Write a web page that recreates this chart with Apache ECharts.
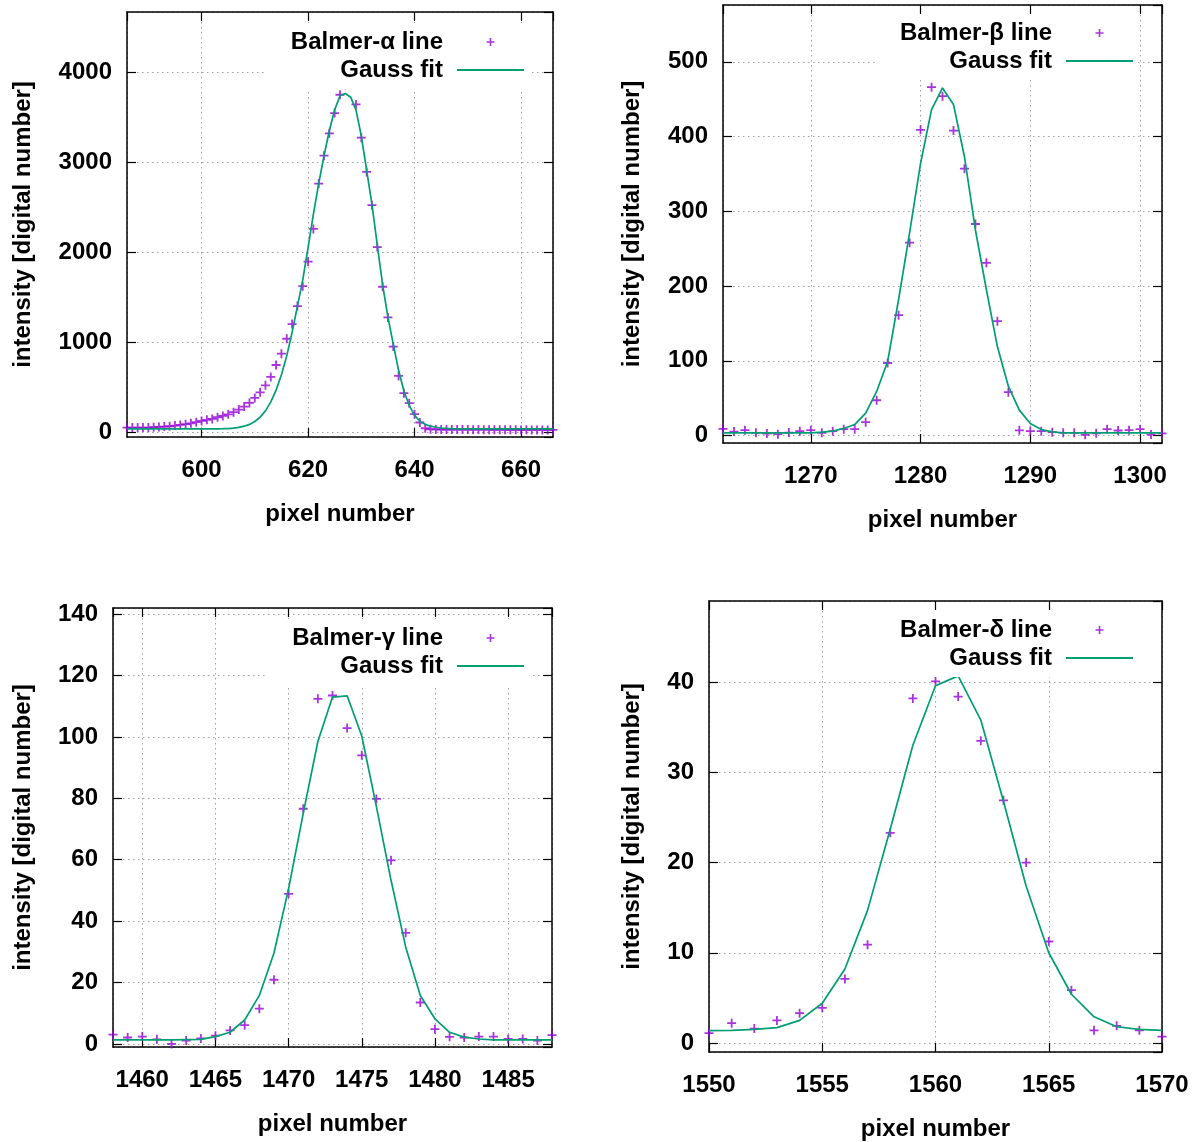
<!DOCTYPE html>
<html>
<head>
<meta charset="utf-8">
<title>Balmer lines – Gauss fits</title>
<script src="https://cdn.jsdelivr.net/npm/echarts@6/dist/echarts.min.js"></script>
<style>
  html, body { margin: 0; padding: 0; background: #fff; }
  #chart { width: 1203px; height: 1142px; }
</style>
</head>
<body>
<div id="chart"></div>
<script>
// ---- data (pixel number, intensity in digital numbers) ----
const alphaPixel = [586,587,588,589,590,591,592,593,594,595,596,597,598,599,600,601,602,603,604,605,
  606,607,608,609,610,611,612,613,614,615,616,617,618,619,620,621,622,623,624,625,
  626,627,628,629,630,631,632,633,634,635,636,637,638,639,640,641,642,643,644,645,
  646,647,648,649,650,651,652,653,654,655,656,657,658,659,660,661,662,663,664,665,666];
const alphaCounts = [55,55,55,55,55,58,62,66,69,77,84,92,102,114,128,140,151,169,184,202,
  225,254,287,328,383,446,523,616,749,874,1040,1203,1402,1623,1895,2258,2761,3071,3319,3544,
  3747,3858,3866,3640,3271,2891,2522,2057,1617,1277,953,628,436,325,203,111,47,36,34,33,
  33,32,33,32,32,31,32,31,31,30,31,30,30,30,29,30,29,29,29,28,28];
const alphaFit = [40,40,40,40,40,40,40,40,40,40,40,40,40,40,40,40,40,41,42,44,
  48,56,70,90,122,170,240,340,470,640,850,1110,1400,1690,2050,2420,2760,3070,3350,3580,
  3735,3760,3720,3580,3290,2910,2530,2080,1640,1280,980,690,460,300,190,125,90,70,58,50,
  45,42,41,41,40,40,40,40,40,40,40,40,40,40,40,40,40,40,40,40,40];

const betaPixel = [1262,1263,1264,1265,1266,1267,1268,1269,1270,1271,1272,1273,1274,1275,1276,1277,1278,1279,1280,1281,
  1282,1283,1284,1285,1286,1287,1288,1289,1290,1291,1292,1293,1294,1295,1296,1297,1298,1299,1300,1301,1302];
const betaCounts = [8.9,5.3,7.1,3.6,2.7,1.8,4.0,5.8,7.1,3.6,5.8,8.5,8.5,17.8,47.2,97,161,258,409,466,
  454,408,357,283,231,153,58,7,6,5.8,4.5,3.6,3.6,0.9,3,8.5,6.7,7.1,8.5,1.3,3];
const betaFit = [3.6,3.6,3.6,3.6,3.6,3.6,3.6,3.6,3.6,4.5,5.8,9.4,14.7,30,59,99,182,271,364,436,
  465,443,373,275,195,119,66,34,16,8,4.9,3.6,3.6,3.6,3.6,3.6,3.6,3.6,3.6,3.6,3.6];

const gammaPixel = [1458,1459,1460,1461,1462,1463,1464,1465,1466,1467,1468,1469,1470,1471,1472,1473,
  1474,1475,1476,1477,1478,1479,1480,1481,1482,1483,1484,1485,1486,1487,1488];
const gammaCounts = [3.0,2.1,2.4,1.5,0,1.1,1.8,2.7,4.4,6.1,11.5,20.9,48.9,76.6,112.4,113.5,
  102.9,94,79.8,59.8,36.2,13.5,4.8,2.3,2.1,2.4,2.4,1.6,1.6,1.1,2.9];
const gammaFit = [1.3,1.3,1.3,1.3,1.3,1.4,1.5,2.4,3.8,7.8,15.8,29.6,50.6,75.1,98.5,113,
  113.4,100.3,77.3,53.3,31.6,15.8,8.2,3.8,2.2,1.6,1.3,1.3,1.3,1.3,1.3];

const deltaPixel = [1550,1551,1552,1553,1554,1555,1556,1557,1558,1559,1560,1561,1562,1563,1564,1565,
  1566,1567,1568,1569,1570];
const deltaCounts = [1.1,2.2,1.6,2.5,3.3,3.9,7.1,10.9,23.3,38.2,40.1,38.4,33.5,26.9,20.0,11.25,
  5.85,1.4,1.9,1.4,0.7];
const deltaFit = [1.36,1.4,1.5,1.7,2.5,4.4,8.2,14.7,23.7,33.0,39.6,40.7,35.8,26.8,17.4,10.0,
  5.4,2.9,1.8,1.5,1.4];

const lineNames = ['Balmer-α line', 'Balmer-β line', 'Balmer-γ line', 'Balmer-δ line'];
const fitName = 'Gauss fit';
const xTitle = 'pixel number';
const yTitle = 'intensity [digital number]';

// ---- styling ----
const PURPLE = '#9400d3';
const GREEN = '#009e73';
const FONT = '"Liberation Sans", Arial, Helvetica, sans-serif';
const CROSS = 'path://M4,0h2v4h4v2h-4v4h-2v-4h-4v-2h4z';
const KEYLINE = 'path://M0,0h67v2h-67z';

const textBase = { fontFamily: FONT, fontWeight: 'bold', fontSize: 24, color: '#000' };
const plain = v => String(v);   // gnuplot style: no thousands separator

// panel layout (pixels) and axis ranges
const panels = [
  { pix: alphaPixel, counts: alphaCounts, fit: alphaFit,
    grid: { left: 127, top: 12, width: 426, height: 425 },
    x: [586, 666, 4, false], y: [-50, 4665, 5], yGap: 92,
    legend: { top: 23, right: 674 } },
  { pix: betaPixel, counts: betaCounts, fit: betaFit,
    grid: { left: 723, top: 5, width: 439, height: 438 },
    x: [1262, 1302, 4, false], y: [-10, 576, 5], yGap: 79,
    legend: { top: 14, right: 65 } },
  { pix: gammaPixel, counts: gammaCounts, fit: gammaFit,
    grid: { left: 113, top: 608, width: 439, height: 439 },
    x: [1458, 1488, 6, false], y: [-1, 142, 7], yGap: 78,
    legend: { top: 619, right: 674 } },
  { pix: deltaPixel, counts: deltaCounts, fit: deltaFit,
    grid: { left: 709, top: 601, width: 453, height: 452 },
    x: [1550, 1570, 4, true], y: [-1, 49, 5], yGap: 65,
    legend: { top: 611, right: 65 } }
];

const frame = { show: true, onZero: false, lineStyle: { color: '#000', width: 1.5 } };
const ticks = { show: true, inside: true, length: 9, lineStyle: { color: '#000', width: 1.2 } };
const dots = { show: true, lineStyle: { color: '#a0a0a0', width: 1, type: [1.5, 3.5] } };

const grids = [], xAxes = [], yAxes = [], series = [], legends = [];

panels.forEach((p, i) => {
  grids.push(Object.assign({ containLabel: false }, p.grid));

  const xBase = { type: 'value', gridIndex: i, min: p.x[0], max: p.x[1], splitNumber: p.x[2],
    axisLine: frame, axisTick: ticks };
  xAxes.push(Object.assign({}, xBase, {
    position: 'bottom',
    name: xTitle, nameLocation: 'middle', nameGap: 65, nameTextStyle: textBase,
    splitLine: dots,
    axisLabel: Object.assign({ margin: 21, showMinLabel: p.x[3], showMaxLabel: p.x[3], formatter: plain }, textBase)
  }));
  xAxes.push(Object.assign({}, xBase, { position: 'top', splitLine: { show: false }, axisLabel: { show: false } }));

  const yBase = { type: 'value', gridIndex: i, min: p.y[0], max: p.y[1], splitNumber: p.y[2],
    axisLine: frame, axisTick: ticks };
  yAxes.push(Object.assign({}, yBase, {
    position: 'left',
    name: yTitle, nameLocation: 'middle', nameRotate: 90, nameGap: p.yGap, nameTextStyle: textBase,
    splitLine: dots,
    axisLabel: Object.assign({ margin: 15, showMinLabel: false, showMaxLabel: false,
      padding: [6, 0, 0, 0], formatter: plain }, textBase)
  }));
  yAxes.push(Object.assign({}, yBase, { position: 'right', splitLine: { show: false }, axisLabel: { show: false } }));

  series.push({
    type: 'scatter', name: lineNames[i], xAxisIndex: 2 * i, yAxisIndex: 2 * i,
    data: p.pix.map((px, k) => [px, p.counts[k]]),
    symbol: CROSS, symbolSize: 9, itemStyle: { color: PURPLE }, z: 2
  });
  series.push({
    type: 'line', name: fitName, xAxisIndex: 2 * i, yAxisIndex: 2 * i,
    data: p.pix.map((px, k) => [px, p.fit[k]]),
    symbol: 'none', lineStyle: { color: GREEN, width: 1.7 }, itemStyle: { color: GREEN }, z: 3
  });

  legends.push({
    top: p.legend.top, right: p.legend.right,
    orient: 'vertical', align: 'right',
    itemWidth: 67, itemHeight: 8, itemGap: 0, symbolKeepAspect: true,
    backgroundColor: '#fff', padding: [5, 5, 5, 25],
    selectedMode: false,
    textStyle: Object.assign({ lineHeight: 28, padding: [0, 9, 0, 0] }, textBase),
    data: [
      { name: lineNames[i], icon: CROSS, itemStyle: { color: PURPLE } },
      { name: fitName, icon: KEYLINE, itemStyle: { color: GREEN } }
    ]
  });
});

const chart = echarts.init(document.getElementById('chart'), null, { renderer: 'canvas' });
chart.setOption({
  animation: false,
  backgroundColor: '#fff',
  grid: grids,
  xAxis: xAxes,
  yAxis: yAxes,
  legend: legends,
  series: series
});
</script>
</body>
</html>
